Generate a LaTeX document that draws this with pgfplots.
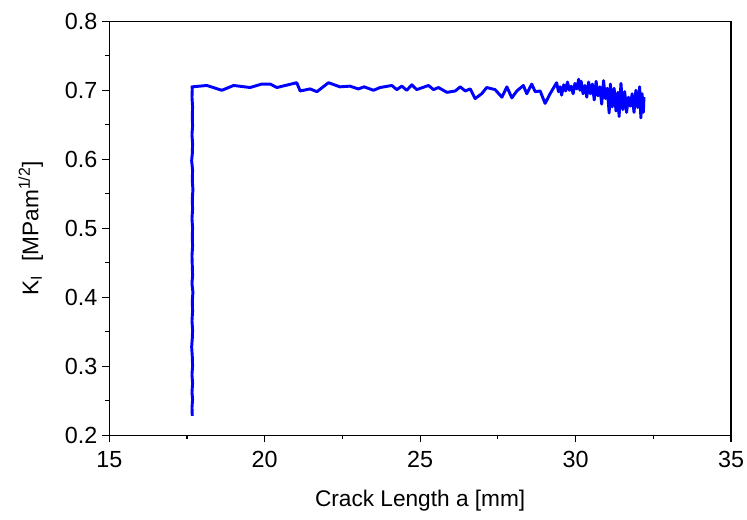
\documentclass[border=0pt]{standalone}
\usepackage{pgfplots}
\pgfplotsset{compat=1.18}
\usepackage{fontspec}
\setmainfont{Liberation Sans}

\begin{document}
\begin{tikzpicture}
\begin{axis}[
  scale only axis,
  width=466.5pt, height=310.5pt,
  xmin=15, xmax=35, ymin=0.2, ymax=0.8,
  xtick={15,20,25,30,35},
  ytick={0.2,0.3,0.4,0.5,0.6,0.7,0.8},
  minor x tick num=1, minor y tick num=1,
  tick align=outside,
  xtick pos=left, ytick pos=left,
  major tick length=5.5pt, minor tick length=3pt,
  axis line style={line width=0.9pt},
  every tick/.style={black, line width=0.9pt},
  /pgf/number format/assume math mode=true,
  yticklabel style={/pgf/number format/.cd, fixed, fixed zerofill, precision=1},
  xticklabel style={yshift=-3pt},
  ticklabel style={font=\fontsize{17.5}{20}\selectfont},
  label style={font=\fontsize{17}{20}\selectfont},
  xlabel={Crack Length a [mm]},
  ylabel={K\textsubscript{I}\,\, [MPam\textsuperscript{1/2}]},
  xlabel style={yshift=-10pt},
  ylabel style={yshift=9.5pt},
]
\addplot[blue, line width=2.2pt, line join=round] coordinates {
(17.67,0.228) (17.66,0.240) (17.68,0.252) (17.66,0.262) (17.68,0.275) (17.66,0.288)
(17.68,0.300) (17.67,0.314) (17.65,0.328) (17.67,0.340) (17.68,0.352) (17.66,0.366)
(17.68,0.380) (17.67,0.394) (17.69,0.407) (17.66,0.420) (17.68,0.432) (17.67,0.446)
(17.66,0.460) (17.68,0.474) (17.67,0.488) (17.68,0.500) (17.66,0.514) (17.68,0.528)
(17.67,0.542) (17.69,0.556) (17.67,0.570) (17.68,0.584) (17.65,0.598) (17.67,0.608)
(17.68,0.622) (17.66,0.636) (17.68,0.648) (17.67,0.662) (17.68,0.676) (17.66,0.690)
(17.67,0.702) (17.66,0.705)
(18.14,0.707) (18.62,0.700) (19.00,0.707) (19.53,0.704) (19.90,0.709) (20.18,0.709)
(20.39,0.704) (21.03,0.711) (21.14,0.699) (21.46,0.702) (21.68,0.698) (22.05,0.711)
(22.42,0.705) (22.74,0.706) (23.01,0.702) (23.20,0.705) (23.50,0.700) (23.71,0.704)
(24.09,0.707) (24.25,0.701) (24.41,0.706) (24.57,0.700) (24.73,0.708) (24.89,0.701)
(25.27,0.707) (25.43,0.701) (25.59,0.704) (25.86,0.697) (26.13,0.699) (26.29,0.705)
(26.45,0.699) (26.61,0.702) (26.77,0.688) (26.98,0.695) (27.14,0.704) (27.41,0.701)
(27.63,0.690) (27.79,0.705) (27.95,0.689) (28.11,0.699) (28.32,0.707) (28.43,0.695)
(28.59,0.709) (28.70,0.698) (28.86,0.699) (29.02,0.681) (29.18,0.695) (29.39,0.711)
(29.45,0.698) (29.50,0.705) (29.55,0.693) (29.62,0.708) (29.68,0.699) (29.74,0.712)
(29.80,0.700) (29.86,0.706) (29.92,0.695) (29.98,0.710) (30.04,0.702) (30.10,0.716)
(30.14,0.700) (30.18,0.713) (30.24,0.695) (30.30,0.707) (30.36,0.690) (30.42,0.712)
(30.48,0.695) (30.54,0.709) (30.60,0.686) (30.66,0.713) (30.72,0.692) (30.78,0.705)
(30.84,0.680) (30.90,0.714) (30.96,0.688) (31.02,0.703) (31.08,0.667) (31.12,0.709)
(31.18,0.676) (31.24,0.703) (31.30,0.670) (31.36,0.697) (31.40,0.662) (31.46,0.710)
(31.52,0.672) (31.58,0.698) (31.64,0.668) (31.70,0.690) (31.76,0.677) (31.82,0.695)
(31.88,0.668) (31.94,0.700) (32.00,0.675) (32.06,0.705) (32.10,0.660) (32.14,0.695)
(32.18,0.668) (32.20,0.690)
};
\end{axis}
\pgfresetboundingbox
\path ([shift={(-82pt,-63pt)}]current axis.south west) rectangle ([shift={(12pt,16pt)}]current axis.north east);
\end{tikzpicture}
\end{document}
